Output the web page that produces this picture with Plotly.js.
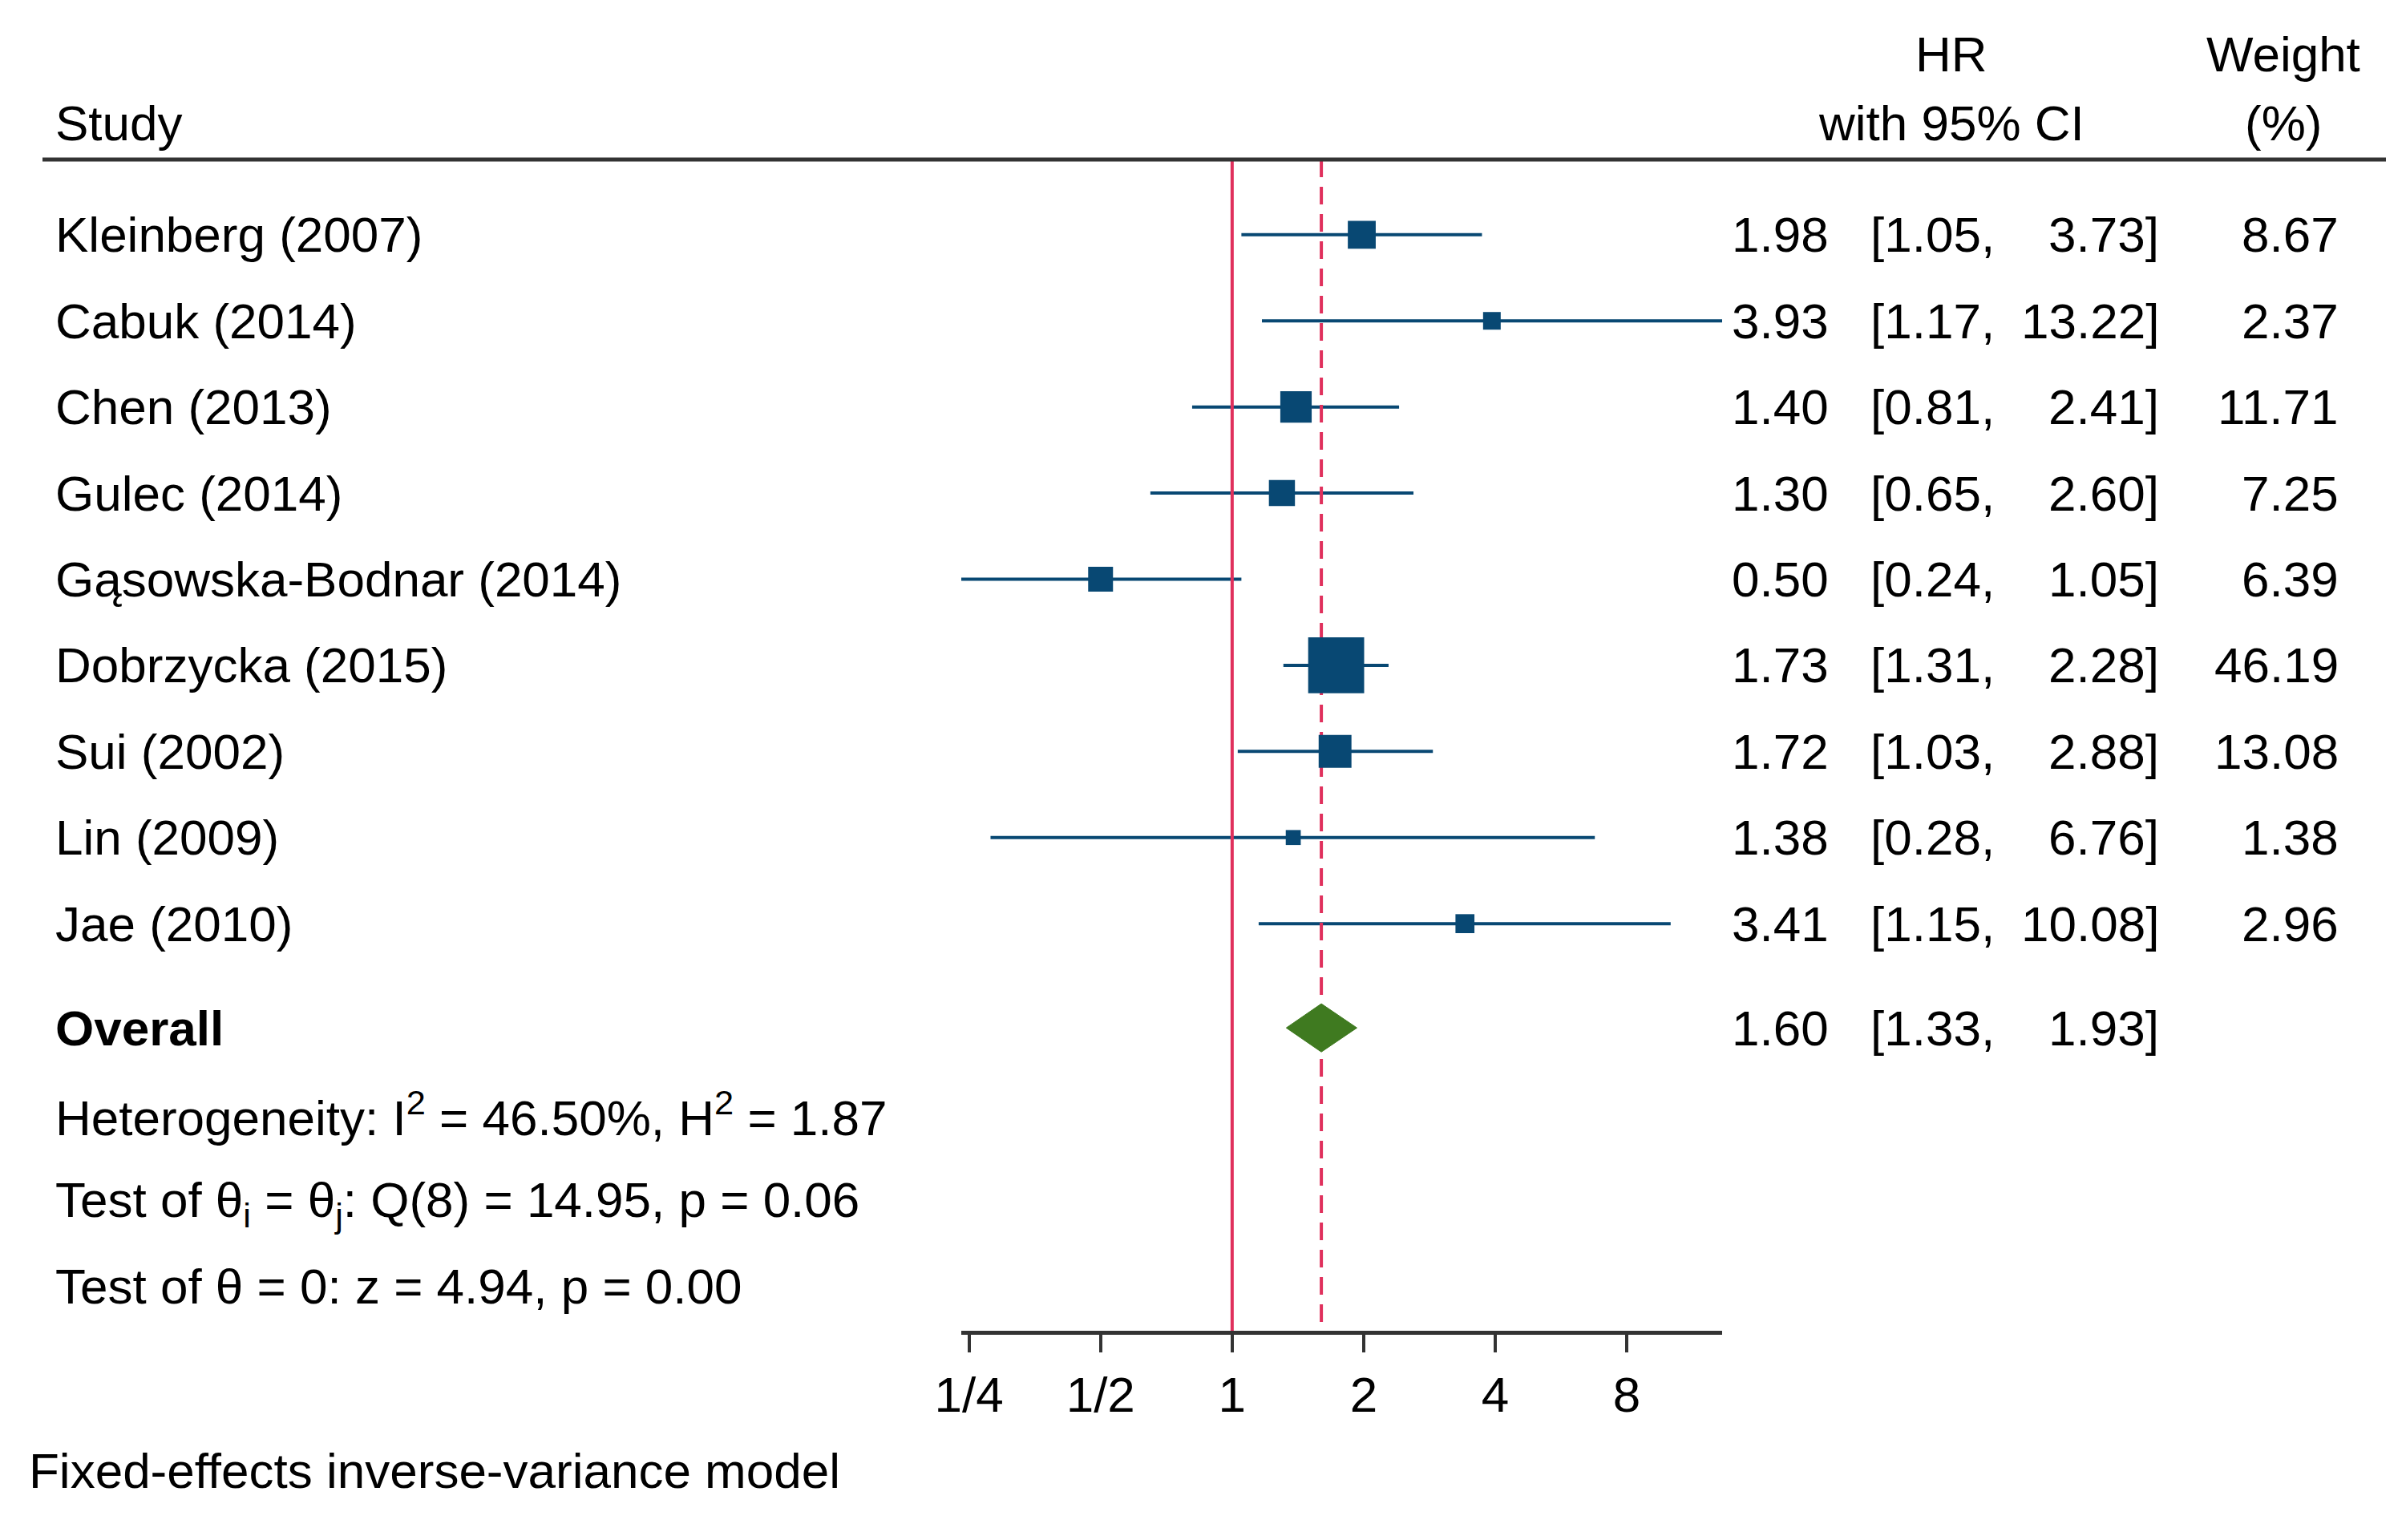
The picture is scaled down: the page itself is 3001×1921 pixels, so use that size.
<!DOCTYPE html>
<html>
<head>
<meta charset="utf-8">
<script src="https://cdn.plot.ly/plotly-3.0.1.min.js"></script>
<style>html,body{margin:0;padding:0;background:#fff;}#chart{width:3001px;height:1921px;}</style>
</head>
<body>
<div id="chart"></div>
<script>
// ---- data ----
const studies = ["Kleinberg (2007)", "Cabuk (2014)", "Chen (2013)", "Gulec (2014)", "Gąsowska-Bodnar (2014)", "Dobrzycka (2015)", "Sui (2002)", "Lin (2009)", "Jae (2010)"];
const hr     = [1.98, 3.93, 1.40, 1.30, 0.50, 1.73, 1.72, 1.38, 3.41];
const ciLow  = [1.05, 1.17, 0.81, 0.65, 0.24, 1.31, 1.03, 0.28, 1.15];
const ciHigh = [3.73, 13.22, 2.41, 2.60, 1.05, 2.28, 2.88, 6.76, 10.08];
const weight = [8.67, 2.37, 11.71, 7.25, 6.39, 46.19, 13.08, 1.38, 2.96];
const overallHR = 1.60, overallLow = 1.33, overallHigh = 1.93;
const nullValue = 1;
const tickVals = [0.25, 0.5, 1, 2, 4, 8];
const tickText = ["1/4", "1/2", "1", "2", "4", "8"];
const footLines = [
  "Heterogeneity: I<sup>2</sup> = 46.50%, H<sup>2</sup> = 1.87",
  "Test of θ<sub>i</sub> = θ<sub>j</sub>: Q(8) = 14.95, p = 0.06",
  "Test of θ = 0: z = 4.94, p = 0.00"
];
const modelNote = "Fixed-effects inverse-variance model";

// ---- layout helpers ----
const W = 3001, H = 1921;
const NAVY = "#084873", GREEN = "#3f7a20", RED = "#e0305c";
const FONT = "Liberation Sans, Arial, sans-serif";
const FS = 62;
const n = studies.length;
const rowY = studies.map((_, i) => i);
const overallY = n - 1 + 1.21;
const xMin = Math.min(...ciLow), xMax = Math.max(...ciHigh);
const px = v => v / W, py = v => 1 - v / H;

const yTopPx = 199, yBotPx = 1660, row0Px = 292.8, rowStep = 107.42;
const yTop = (yTopPx - row0Px) / rowStep, yBot = (yBotPx - row0Px) / rowStep;

// CI lines
const ciX = [], ciY = [];
for (let i = 0; i < n; i++) { ciX.push(ciLow[i], ciHigh[i], null); ciY.push(rowY[i], rowY[i], null); }

const traces = [
  {type: "scatter", mode: "lines", x: ciX, y: ciY, line: {color: NAVY, width: 4}, hoverinfo: "skip", cliponaxis: false},
  {type: "scatter", mode: "lines", x: [nullValue, nullValue], y: [yTop, yBot], line: {color: RED, width: 4}, cliponaxis: false},
  {type: "scatter", mode: "lines", x: [overallHR, overallHR], y: [yTop, yBot], line: {color: RED, width: 4, dash: "22px,12px"}, cliponaxis: false},
  {type: "scatter", mode: "markers", x: hr, y: rowY,
   marker: {symbol: "square", color: NAVY, opacity: 1, size: weight.map(w => 8 + 9.1 * Math.sqrt(w)), line: {width: 0}}, cliponaxis: false},
  {type: "scatter", mode: "lines", fill: "toself", fillcolor: GREEN,
   x: [overallLow, overallHR, overallHigh, overallHR, overallLow],
   y: [overallY, overallY - 0.28, overallY, overallY + 0.28, overallY],
   line: {color: GREEN, width: 1}, cliponaxis: false}
];

const ann = [];
const txt = (x, y, text, xanchor, yref, extra) => ann.push(Object.assign({
  xref: "paper", yref: yref || "y", x: x, y: y, text: text, showarrow: false,
  xanchor: xanchor, yanchor: "middle", font: {family: FONT, size: FS, color: "#000"}
}, extra || {}));

// headers
txt(px(67), py(153), "Study", "left", "paper");
txt(px(2434), py(67), "HR", "center", "paper");
txt(px(2434), py(153), "with 95% CI", "center", "paper");
txt(px(2848), py(67), "Weight", "center", "paper");
txt(px(2848), py(153), "(%)", "center", "paper");

const f2 = v => v.toFixed(2);
for (let i = 0; i < n; i++) {
  txt(px(67), rowY[i], studies[i], "left");
  txt(px(2283), rowY[i], f2(hr[i]), "right");
  txt(px(2331), rowY[i], "[" + f2(ciLow[i]) + ",", "left");
  txt(px(2695), rowY[i], f2(ciHigh[i]) + "]", "right");
  txt(px(2919), rowY[i], f2(weight[i]), "right");
}
txt(px(67), overallY, "<b>Overall</b>", "left");
txt(px(2283), overallY, f2(overallHR), "right");
txt(px(2331), overallY, "[" + f2(overallLow) + ",", "left");
txt(px(2695), overallY, f2(overallHigh) + "]", "right");
footLines.forEach((t, k) => txt(px(67), overallY + 1 + k + (k === 1 ? 0.04 : 0), t, "left"));
txt(px(34), py(1834), modelNote, "left", "paper");

const layout = {
  width: W, height: H, margin: {l: 0, r: 0, t: 0, b: 0},
  paper_bgcolor: "#fff", plot_bgcolor: "#fff", showlegend: false,
  font: {family: FONT, size: FS, color: "#000"},
  xaxis: {type: "log", domain: [px(1199), px(2148)], range: [Math.log10(xMin), Math.log10(xMax)],
    tickvals: tickVals, ticktext: tickText, ticks: "outside", ticklen: 22, tickwidth: 4, tickcolor: "#333",
    showline: true, linewidth: 5, linecolor: "#333", showgrid: false, zeroline: false,
    tickfont: {family: FONT, size: FS, color: "#000"}, fixedrange: true},
  yaxis: {domain: [py(yBotPx), py(yTopPx)], range: [yBot, yTop],
    visible: false, showgrid: false, zeroline: false, fixedrange: true},
  shapes: [
    {type: "line", xref: "paper", yref: "paper", x0: px(53), x1: px(2976), y0: py(yTopPx), y1: py(yTopPx), line: {color: "#333", width: 5}}
  ],
  annotations: ann
};

Plotly.newPlot("chart", traces, layout, {staticPlot: true, displayModeBar: false});
</script>
</body>
</html>
